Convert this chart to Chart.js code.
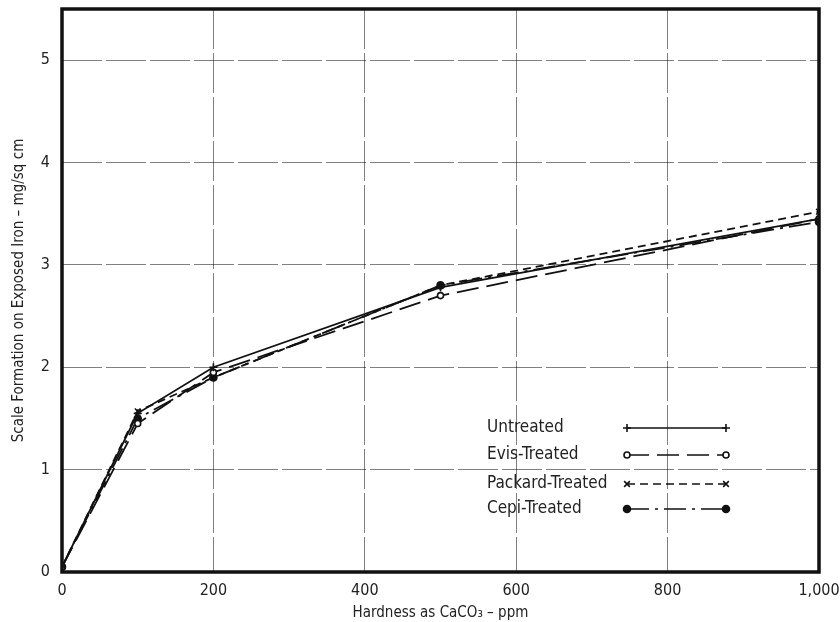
<!DOCTYPE html>
<html>
<head>
<meta charset="utf-8">
<script src="https://cdn.jsdelivr.net/npm/chart.js@4/dist/chart.umd.min.js"></script>
<style>
  html, body { margin: 0; padding: 0; background: #fff; }
  #wrap { width: 840px; height: 622px; }
</style>
</head>
<body>
<div id="wrap"><canvas id="scaleChart" width="840" height="622"></canvas></div>
<script>
// hardness (ppm CaCO3) and scale formation (mg/sq cm)
const hardness = [0, 100, 200, 500, 1000];
const untreated = [0.05, 1.55, 2.0, 2.78, 3.45];
const evisTreated = [0.05, 1.45, 1.95, 2.7, 3.45];
const packardTreated = [0.05, 1.57, 1.9, 2.8, 3.52];
const cepiTreated = [0.05, 1.5, 1.9, 2.8, 3.42];
const seriesNames = ['Untreated', 'Evis-Treated', 'Packard-Treated', 'Cepi-Treated'];
const xTicks = [0, 200, 400, 600, 800, 1000];
const yTicks = [0, 1, 2, 3, 4, 5];

const FONT = '"Liberation Sans Narrow", "DejaVu Sans Condensed", sans-serif';

function toPoints(ys) {
    return hardness.map((x, i) => ({ x: x, y: ys[i] }));
}

function makeSet(label, ys, style, dash, fill, radius) {
    return {
        label: label,
        data: toPoints(ys),
        borderColor: '#111',
        borderWidth: 1.8,
        borderDash: dash,
        pointStyle: style,
        pointRadius: radius,
        pointBackgroundColor: fill,
        pointBorderColor: '#111',
        pointBorderWidth: 1.6,
        tension: 0
    };
}

// frame round the plot
const framePlugin = {
    id: 'frame',
    afterDraw(chart) {
        const a = chart.chartArea;
        const ctx = chart.ctx;
        ctx.save();
        ctx.strokeStyle = '#111';
        ctx.lineWidth = 3.5;
        ctx.strokeRect(a.left, a.top, a.right - a.left, a.bottom - a.top);
        ctx.restore();
    }
};

// legend inside the plot: text then a sample line with end markers
const sampleLegend = {
    id: 'sampleLegend',
    afterDraw(chart) {
        const ctx = chart.ctx;
        const rows = [428, 455, 484, 509];
        ctx.save();
        chart.data.datasets.forEach((ds, i) => {
            const y = rows[i];
            ctx.fillStyle = '#222';
            ctx.font = '17px ' + FONT;
            ctx.textBaseline = 'middle';
            ctx.textAlign = 'left';
            ctx.fillText(ds.label, 487, y);

            ctx.strokeStyle = '#111';
            ctx.lineWidth = 1.4;
            ctx.setLineDash(ds.borderDash);
            ctx.beginPath();
            ctx.moveTo(627, y);
            ctx.lineTo(726, y);
            ctx.stroke();
            ctx.setLineDash([]);

            [627, 726].forEach(px => {
                ctx.fillStyle = ds.pointBackgroundColor;
                ctx.strokeStyle = '#111';
                ctx.lineWidth = 1.6;
                Chart.helpers.drawPoint(ctx, {
                    pointStyle: ds.pointStyle,
                    radius: ds.pointRadius,
                    rotation: 0,
                    borderWidth: 1.6
                }, px, y);
            });
        });
        ctx.restore();
    }
};

const gridStyle = {
    color: 'rgba(0,0,0,0.5)',
    lineWidth: 1,
    drawTicks: false
};

const ctx = document.getElementById('scaleChart').getContext('2d');
const scaleChart = new Chart(ctx, {
    type: 'line',
    data: {
        datasets: [
            makeSet(seriesNames[0], untreated, 'cross', [], '#111', 4),
            makeSet(seriesNames[1], evisTreated, 'circle', [22, 8], '#fff', 3),
            makeSet(seriesNames[2], packardTreated, 'crossRot', [8, 5], '#111', 4),
            makeSet(seriesNames[3], cepiTreated, 'circle', [22, 6, 3, 6], '#111', 3.5)
        ]
    },
    options: {
        responsive: false,
        animation: false,
        layout: { padding: { top: 9, right: 21, left: 0, bottom: 0 } },
        plugins: {
            legend: { display: false },
            tooltip: { enabled: false }
        },
        scales: {
            x: {
                type: 'linear',
                min: 0,
                max: 1000,
                afterBuildTicks: s => { s.ticks = xTicks.map(v => ({ value: v })); },
                afterFit: s => { s.height = 50; s.paddingLeft = 0; s.paddingRight = 0; },
                grid: gridStyle,
                border: { display: false, dash: [40, 4] },
                ticks: {
                    color: '#222',
                    padding: 9,
                    font: { family: FONT, size: 16 },
                    callback: v => v.toLocaleString('en-US')
                },
                title: {
                    display: true,
                    text: 'Hardness as CaCO\u2083 \u2013 ppm',
                    color: '#222',
                    font: { family: FONT, size: 15 },
                    padding: { top: 0, bottom: 0 }
                }
            },
            y: {
                type: 'linear',
                min: 0,
                max: 5.5,
                afterBuildTicks: s => { s.ticks = yTicks.map(v => ({ value: v })); },
                afterFit: s => { s.width = 62; s.paddingTop = 0; s.paddingBottom = 0; },
                grid: gridStyle,
                border: { display: false, dash: [40, 4] },
                ticks: {
                    color: '#222',
                    padding: 12,
                    font: { family: FONT, size: 16 }
                },
                title: {
                    display: true,
                    text: 'Scale Formation on Exposed Iron \u2013 mg/sq cm',
                    color: '#222',
                    font: { family: FONT, size: 15 },
                    padding: { top: 10, bottom: 4 }
                }
            }
        }
    },
    plugins: [framePlugin, sampleLegend]
});
</script>
</body>
</html>
